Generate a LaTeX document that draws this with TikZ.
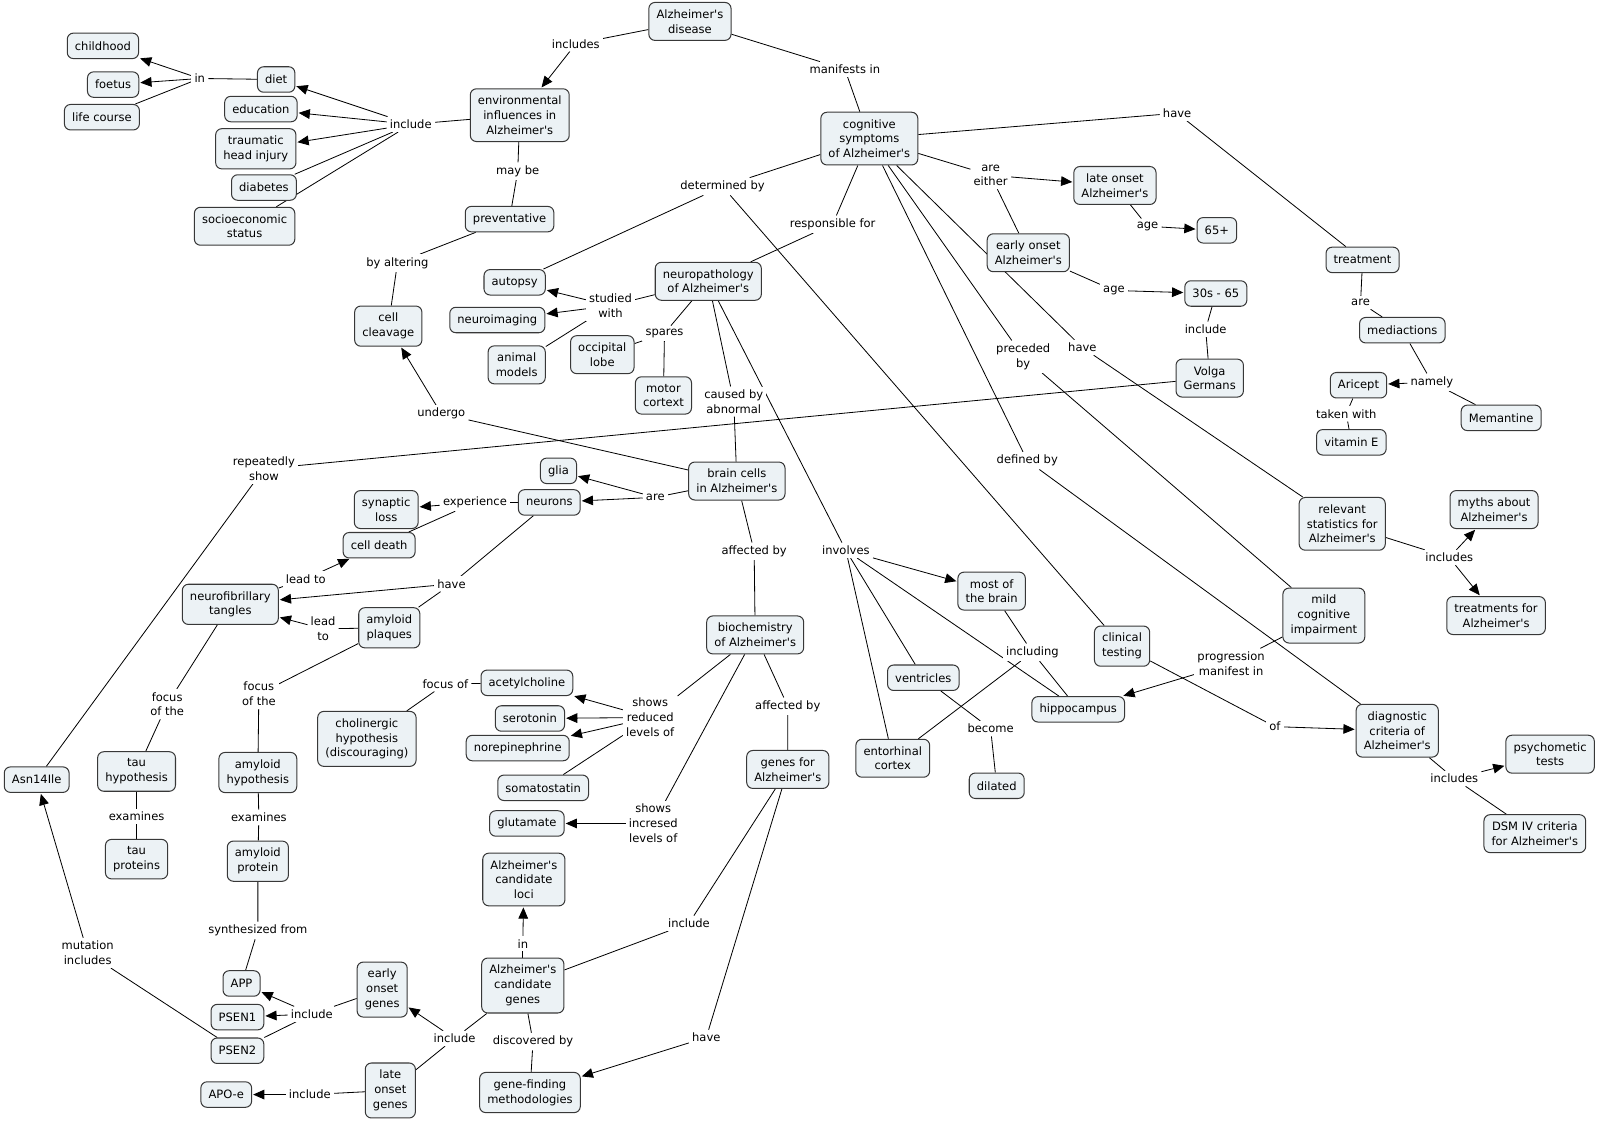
\documentclass[tikz,border=0pt]{standalone}
\usepackage{fontspec}
\newfontfamily\cmapsans{DejaVu Sans}
\usetikzlibrary{arrows.meta,backgrounds}
\definecolor{cfill}{HTML}{ECF2F5}
\definecolor{cedge}{HTML}{383838}
\newcommand\cmapfont{\cmapsans\fontsize{11.3}{14.5}\selectfont}
\tikzset{
  concept/.style={draw=cedge,fill=cfill,rounded corners=6pt,line width=1pt,align=center,inner xsep=7.5pt,inner ysep=7pt,minimum height=25pt,font=\cmapfont},
  linkph/.style={fill=white,align=center,inner sep=3pt,font=\cmapfont},
  conn/.style={draw=black,line width=0.8pt},
  arr/.style={conn,-{Triangle[length=11pt,width=9.5pt]},shorten >=1pt},
}

\begin{document}
\begin{tikzpicture}[x=1pt,y=-1pt]
  \useasboundingbox (0,0) rectangle (1568,1100);
  % concepts
  \node[concept] (ad) at (677,21) {Alzheimer's\\disease};
  \node[concept] (env) at (510,113) {environmental\\influences in\\Alzheimer's};
  \node[concept] (cog) at (853,136) {cognitive\\symptoms\\of Alzheimer's};
  \node[concept] (childhood) at (101,45) {childhood};
  \node[concept] (foetus) at (111,83) {foetus};
  \node[concept] (lifecourse) at (100,115) {life course};
  \node[concept] (diet) at (271,78) {diet};
  \node[concept] (education) at (256,107) {education};
  \node[concept] (headinj) at (251,146) {traumatic\\head injury};
  \node[concept] (diabetes) at (259,184) {diabetes};
  \node[concept] (socio) at (240,222) {socioeconomic\\status};
  \node[concept] (prevent) at (500,215) {preventative};
  \node[concept] (cleavage) at (381,320) {cell\\cleavage};
  \node[concept] (autopsy) at (505,277) {autopsy};
  \node[concept] (neuroimg) at (488,314) {neuroimaging};
  \node[concept] (animal) at (507,358) {animal\\models};
  \node[concept] (occipital) at (591,348) {occipital\\lobe};
  \node[concept] (motor) at (651,388) {motor\\cortext};
  \node[concept] (neuropath) at (695,276) {neuropathology\\of Alzheimer's};
  \node[concept] (lateonset) at (1094,182) {late onset\\Alzheimer's};
  \node[concept] (sixtyfive) at (1194,226) {65+};
  \node[concept] (earlyonset) at (1009,248) {early onset\\Alzheimer's};
  \node[concept] (thirties) at (1193,288) {30s - 65};
  \node[concept] (volga) at (1187,371) {Volga\\Germans};
  \node[concept] (treatment) at (1337,255) {treatment};
  \node[concept] (medic) at (1376,324) {mediactions};
  \node[concept] (aricept) at (1333,378) {Aricept};
  \node[concept] (memantine) at (1473,410) {Memantine};
  \node[concept] (vitamine) at (1326,434) {vitamin E};
  \node[concept] (glia) at (548,462) {glia};
  \node[concept] (neurons) at (539,493) {neurons};
  \node[concept] (synaptic) at (379,500) {synaptic\\loss};
  \node[concept] (celldeath) at (372,535) {cell death};
  \node[concept] (braincells) at (723,472) {brain cells\\in Alzheimer's};
  \node[concept] (tangles) at (226,593) {neurofibrillary\\tangles};
  \node[concept] (plaques) at (382,616) {amyloid\\plaques};
  \node[concept] (mostbrain) at (973,580) {most of\\the brain};
  \node[concept] (stats) at (1317,514) {relevant\\statistics for\\Alzheimer's};
  \node[concept] (myths) at (1466,500) {myths about\\Alzheimer's};
  \node[concept] (treatfor) at (1468,604) {treatments for\\Alzheimer's};
  \node[concept] (mci) at (1299,604) {mild\\cognitive\\impairment};
  \node[concept] (clinical) at (1101,634) {clinical\\testing};
  \node[concept] (biochem) at (741,623) {biochemistry\\of Alzheimer's};
  \node[concept] (acetyl) at (517,670) {acetylcholine};
  \node[concept] (seroton) at (520,705) {serotonin};
  \node[concept] (norepi) at (508,734) {norepinephrine};
  \node[concept] (somato) at (533,773) {somatostatin};
  \node[concept] (glutam) at (517,808) {glutamate};
  \node[concept] (cholin) at (360,725) {cholinergic\\hypothesis\\(discouraging)};
  \node[concept] (ventricles) at (906,665) {ventricles};
  \node[concept] (entorhinal) at (876,744) {entorhinal\\cortex};
  \node[concept] (hippo) at (1058,696) {hippocampus};
  \node[concept] (dilated) at (978,771) {dilated};
  \node[concept] (diagnostic) at (1371,717) {diagnostic\\criteria of\\Alzheimer's};
  \node[concept] (psycho) at (1521,740) {psychometic\\tests};
  \node[concept] (dsm) at (1506,818) {DSM IV criteria\\for Alzheimer's};
  \node[concept] (genesfor) at (773,755) {genes for\\Alzheimer's};
  \node[concept] (asn) at (36,765) {Asn14Ile};
  \node[concept] (tauhyp) at (134,757) {tau\\hypothesis};
  \node[concept] (taupro) at (134,843) {tau\\proteins};
  \node[concept] (amyhyp) at (253,758) {amyloid\\hypothesis};
  \node[concept] (amypro) at (253,845) {amyloid\\protein};
  \node[concept] (loci) at (514,863) {Alzheimer's\\candidate\\loci};
  \node[concept] (candgenes) at (513,967) {Alzheimer's\\candidate\\genes};
  \node[concept] (app) at (237,965) {APP};
  \node[concept] (psen1) at (233,998) {PSEN1};
  \node[concept] (psen2) at (233,1031) {PSEN2};
  \node[concept] (eogenes) at (375,971) {early\\onset\\genes};
  \node[concept] (logenes) at (383,1070) {late\\onset\\genes};
  \node[concept] (apoe) at (222,1074) {APO-e};
  \node[concept] (genefind) at (520,1072) {gene-finding\\methodologies};

  % linking phrases
  \node[linkph] (l-includes) at (565,43) {includes};
  \node[linkph] (l-manifests) at (829,68) {manifests in};
  \node[linkph] (l-envinc) at (403,122) {include};
  \node[linkph] (l-in) at (196,77) {in};
  \node[linkph] (l-maybe) at (508,168) {may be};
  \node[linkph] (l-altering) at (390,258) {by altering};
  \node[linkph] (l-cogtreat) at (1155,111) {have};
  \node[linkph] (l-determined) at (709,183) {determined by};
  \node[linkph] (l-responsible) at (817,220) {responsible for};
  \node[linkph] (l-either) at (972,172) {are\\either};
  \node[linkph] (l-agelate) at (1126,222) {age};
  \node[linkph] (l-ageearly) at (1093,285) {age};
  \node[linkph] (l-volga) at (1183,323) {include};
  \node[linkph] (l-preceded) at (1004,350) {preceded\\by};
  \node[linkph] (l-cogstats) at (1062,341) {have};
  \node[linkph] (l-defined) at (1008,452) {defined by};
  \node[linkph] (l-are) at (1335,297) {are};
  \node[linkph] (l-namely) at (1405,375) {namely};
  \node[linkph] (l-taken) at (1321,406) {taken with};
  \node[linkph] (l-studied) at (599,300) {studied\\with};
  \node[linkph] (l-spares) at (652,327) {spares};
  \node[linkph] (l-caused) at (720,394) {caused by\\abnormal};
  \node[linkph] (l-involves) at (830,540) {involves};
  \node[linkph] (l-undergo) at (433,406) {undergo};
  \node[linkph] (l-repeat) at (259,460) {repeatedly\\show};
  \node[linkph] (l-cellsare) at (643,488) {are};
  \node[linkph] (l-experience) at (466,493) {experience};
  \node[linkph] (l-neurhave) at (443,573) {have};
  \node[linkph] (l-leadto) at (300,568) {lead to};
  \node[linkph] (l-leadtwo) at (317,617) {lead\\to};
  \node[linkph] (l-affected) at (740,541) {affected by};
  \node[linkph] (l-focustau) at (164,691) {focus\\of the};
  \node[linkph] (l-focusamy) at (254,681) {focus\\of the};
  \node[linkph] (l-examtau) at (134,801) {examines};
  \node[linkph] (l-examamy) at (254,802) {examines};
  \node[linkph] (l-focusof) at (437,671) {focus of};
  \node[linkph] (l-reduced) at (638,704) {shows\\reduced\\levels of};
  \node[linkph] (l-incresed) at (641,808) {shows\\incresed\\levels of};
  \node[linkph] (l-affgenes) at (773,693) {affected by};
  \node[linkph] (l-including) at (1013,640) {including};
  \node[linkph] (l-become) at (972,715) {become};
  \node[linkph] (l-statsinc) at (1422,547) {includes};
  \node[linkph] (l-progress) at (1208,651) {progression\\manifest in};
  \node[linkph] (l-of) at (1251,713) {of};
  \node[linkph] (l-diaginc) at (1427,764) {includes};
  \node[linkph] (l-geneinc) at (676,906) {include};
  \node[linkph] (l-genehave) at (693,1018) {have};
  \node[linkph] (l-inloci) at (513,926) {in};
  \node[linkph] (l-discovered) at (523,1022) {discovered by};
  \node[linkph] (l-candinc) at (446,1019) {include};
  \node[linkph] (l-eoinc) at (306,995) {include};
  \node[linkph] (l-loinc) at (304,1074) {include};
  \node[linkph] (l-synth) at (253,913) {synthesized from};
  \node[linkph] (l-mutation) at (86,935) {mutation\\includes};

  % connectors
  \begin{pgfonlayer}{background}
    \draw[conn] (ad) -- (l-includes); \draw[arr] (l-includes) -- (env);
    \draw[conn] (ad) -- (l-manifests) -- (cog);
    \draw[conn] (env) -- (l-envinc);
    \foreach \t in {diet,education,headinj} \draw[arr] (l-envinc) -- (\t);
    \foreach \t in {diabetes,socio} \draw[conn] (l-envinc) -- (\t);
    \draw[conn] (diet) -- (l-in);
    \draw[arr] (l-in) -- (childhood); \draw[arr] (l-in) -- (foetus);
    \draw[conn] (l-in) -- (lifecourse);
    \draw[conn] (env) -- (l-maybe) -- (prevent);
    \draw[conn] (prevent) -- (l-altering) -- (cleavage);
    \draw[conn] (cog) -- (l-cogtreat) -- (treatment);
    \draw[conn] (cog) -- (l-determined);
    \draw[conn] (l-determined) -- (autopsy); \draw[conn] (l-determined) -- (clinical);
    \draw[conn] (cog) -- (l-responsible) -- (neuropath);
    \draw[conn] (cog) -- (l-either); \draw[arr] (l-either) -- (lateonset);
    \draw[conn] (l-either) -- (earlyonset);
    \draw[conn] (lateonset) -- (l-agelate); \draw[arr] (l-agelate) -- (sixtyfive);
    \draw[conn] (earlyonset) -- (l-ageearly); \draw[arr] (l-ageearly) -- (thirties);
    \draw[conn] (thirties) -- (l-volga) -- (volga);
    \draw[conn] (cog) -- (l-preceded) -- (mci);
    \draw[conn] (cog) -- (l-cogstats) -- (stats);
    \draw[conn] (cog) -- (l-defined) -- (diagnostic);
    \draw[conn] (treatment) -- (l-are) -- (medic);
    \draw[conn] (medic) -- (l-namely); \draw[arr] (l-namely) -- (aricept);
    \draw[conn] (l-namely) -- (memantine);
    \draw[conn] (aricept) -- (l-taken) -- (vitamine);
    \draw[conn] (neuropath) -- (l-studied);
    \draw[arr] (l-studied) -- (autopsy); \draw[arr] (l-studied) -- (neuroimg);
    \draw[conn] (l-studied) -- (animal);
    \draw[conn] (neuropath) -- (l-spares);
    \draw[conn] (l-spares) -- (occipital); \draw[conn] (l-spares) -- (motor);
    \draw[conn] (neuropath) -- (l-caused) -- (braincells);
    \draw[conn] (neuropath) -- (l-involves); \draw[arr] (l-involves) -- (mostbrain);
    \foreach \t in {ventricles,entorhinal,hippo} \draw[conn] (l-involves) -- (\t);
    \draw[conn] (braincells) -- (l-undergo); \draw[arr] (l-undergo) -- (cleavage);
    \draw[conn] (volga) -- (l-repeat) -- (asn);
    \draw[conn] (braincells) -- (l-cellsare);
    \draw[arr] (l-cellsare) -- (glia); \draw[arr] (l-cellsare) -- (neurons);
    \draw[conn] (neurons) -- (l-experience); \draw[arr] (l-experience) -- (synaptic);
    \draw[conn] (l-experience) -- (celldeath);
    \draw[conn] (neurons) -- (l-neurhave); \draw[arr] (l-neurhave) -- (tangles);
    \draw[conn] (l-neurhave) -- (plaques);
    \draw[conn] (tangles) -- (l-leadto); \draw[arr] (l-leadto) -- (celldeath);
    \draw[conn] (plaques) -- (l-leadtwo); \draw[arr] (l-leadtwo) -- (tangles);
    \draw[conn] (braincells) -- (l-affected) -- (biochem);
    \draw[conn] (tangles) -- (l-focustau) -- (tauhyp);
    \draw[conn] (plaques) -- (l-focusamy) -- (amyhyp);
    \draw[conn] (tauhyp) -- (l-examtau) -- (taupro);
    \draw[conn] (amyhyp) -- (l-examamy) -- (amypro);
    \draw[conn] (cholin) -- (l-focusof) -- (acetyl);
    \draw[conn] (biochem) -- (l-reduced);
    \foreach \t in {acetyl,seroton,norepi} \draw[arr] (l-reduced) -- (\t);
    \draw[conn] (l-reduced) -- (somato);
    \draw[conn] (biochem) -- (l-incresed); \draw[arr] (l-incresed) -- (glutam);
    \draw[conn] (biochem) -- (l-affgenes) -- (genesfor);
    \draw[conn] (mostbrain) -- (l-including);
    \draw[conn] (l-including) -- (hippo); \draw[conn] (l-including) -- (entorhinal);
    \draw[conn] (ventricles) -- (l-become) -- (dilated);
    \draw[conn] (stats) -- (l-statsinc);
    \draw[arr] (l-statsinc) -- (myths); \draw[arr] (l-statsinc) -- (treatfor);
    \draw[conn] (mci) -- (l-progress); \draw[arr] (l-progress) -- (hippo);
    \draw[conn] (clinical) -- (l-of); \draw[arr] (l-of) -- (diagnostic);
    \draw[conn] (diagnostic) -- (l-diaginc); \draw[arr] (l-diaginc) -- (psycho);
    \draw[conn] (l-diaginc) -- (dsm);
    \draw[conn] (genesfor) -- (l-geneinc) -- (candgenes);
    \draw[conn] (genesfor) -- (l-genehave); \draw[arr] (l-genehave) -- (genefind);
    \draw[conn] (candgenes) -- (l-inloci); \draw[arr] (l-inloci) -- (loci);
    \draw[conn] (candgenes) -- (l-discovered) -- (genefind);
    \draw[conn] (candgenes) -- (l-candinc); \draw[arr] (l-candinc) -- (eogenes);
    \draw[conn] (l-candinc) -- (logenes);
    \draw[conn] (eogenes) -- (l-eoinc);
    \draw[arr] (l-eoinc) -- (app); \draw[arr] (l-eoinc) -- (psen1);
    \draw[conn] (l-eoinc) -- (psen2);
    \draw[conn] (logenes) -- (l-loinc); \draw[arr] (l-loinc) -- (apoe);
    \draw[conn] (amypro) -- (l-synth) -- (app);
    \draw[conn] (psen2) -- (l-mutation); \draw[arr] (l-mutation) -- (asn);
  \end{pgfonlayer}
\end{tikzpicture}
\end{document}
